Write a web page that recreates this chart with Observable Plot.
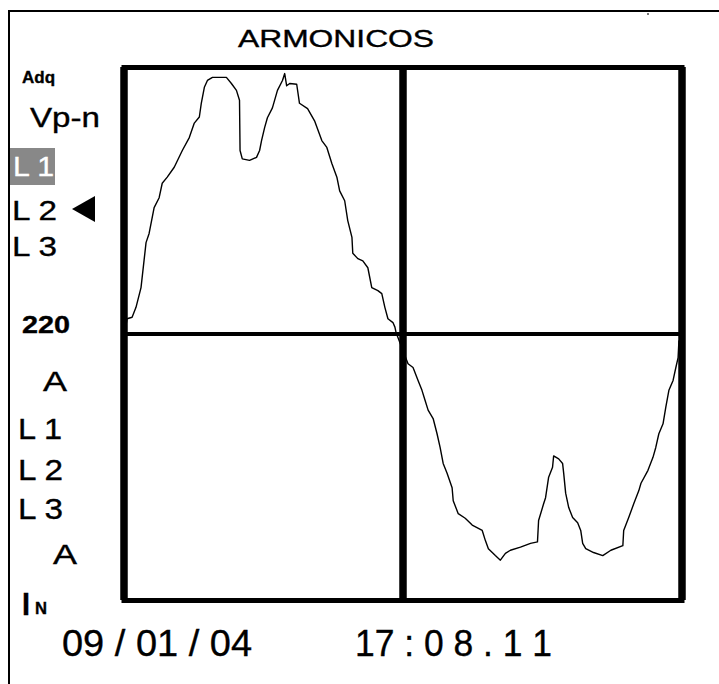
<!DOCTYPE html>
<html><head><meta charset="utf-8">
<script src="https://cdn.jsdelivr.net/npm/d3@7"></script>
<script src="https://cdn.jsdelivr.net/npm/@observablehq/plot@0.6"></script>
<style>
body{margin:0;background:#fff;}
#wrap{position:relative;width:719px;height:684px;overflow:hidden;font-family:"Liberation Sans",Arial,sans-serif;color:#000;background:#fff;}
#wrap svg{position:absolute;left:0;top:0;}
.lbl{position:absolute;white-space:pre;line-height:1;transform-origin:0 0;-webkit-text-stroke:0.35px currentColor;}
#outer{position:absolute;left:8px;top:10px;right:0;bottom:0;border-top:2px solid #000;border-left:2px solid #000;}
</style></head><body><div id="wrap"></div>
<script>
// waveform samples: time (ms) and value
const timeMs = [0.06,0.11,0.29,0.43,0.61,0.72,0.79,0.90,1.08,1.26,
1.37,1.55,1.80,2.09,2.34,2.52,2.70,2.77,2.88,2.99,
3.17,3.67,3.85,4.03,4.14,4.16,4.24,4.50,4.75,4.86,
4.93,5.04,5.14,5.32,5.50,5.68,5.76,5.83,5.94,6.19,
6.29,6.58,6.83,7.09,7.27,7.45,7.63,7.73,7.91,8.02,
8.17,8.20,8.38,8.56,8.74,8.88,9.10,9.24,9.35,9.46,
9.64,9.71,9.75,
10.18,10.36,10.54,10.68,10.79,10.90,11.08,11.22,11.33,11.44,
11.58,11.76,11.80,11.98,12.23,12.48,12.84,12.95,13.06,13.31,
13.49,13.67,13.85,14.21,14.57,14.82,14.86,15.04,15.11,15.22,
15.36,15.40,15.58,15.72,15.76,15.83,15.94,16.08,16.26,16.37,
16.44,16.55,16.83,17.16,17.45,17.88,17.91,18.09,18.27,18.45,
18.53,18.78,18.96,19.06,19.17,19.32,19.42,19.53,19.68,19.78,
19.86,19.89];
const values = [9,20,22,35,61,97,120,132,166,179,
198,206,219,241,258,277,285,303,324,333,
337,337,329,320,307,241,230,228,232,241,
254,271,284,297,320,333,342,326,329,328,
303,296,280,254,245,224,206,188,175,149,
127,106,99,96,87,61,57,53,35,20,
15,9,2,
-39,-44,-61,-74,-87,-100,-111,-131,-149,-170,
-183,-202,-219,-236,-242,-251,-258,-271,-282,-291,
-297,-288,-284,-280,-275,-273,-245,-223,-215,-188,
-175,-160,-164,-170,-183,-209,-228,-241,-248,-258,
-275,-282,-287,-291,-284,-278,-258,-241,-223,-206,
-196,-179,-162,-149,-131,-118,-96,-74,-61,-44,
-31,-9];
const xDomain = [0, 20];
const yDomain = [-350, 350];
const gridTimes = [0, 10, 20];
const gridValues = [0];

const title = "ARMONICOS";
const modeLabel = "Adq";
const voltLabel = "Vp-n";
const phaseLabels = ["L 1", "L 2", "L 3"];
const scaleLabel = "220";
const ampLabel = "A";
const neutral = ["I", "N"];
const dateLabel = "09 / 01 / 04";
const timeLabel = "17 : 0 8 . 1 1";

const data = timeMs.map((t, i) => ({t, v: values[i]}));

const chart = Plot.plot({
  width: 719, height: 684,
  marginLeft: 123.5, marginRight: 37.5, marginTop: 67, marginBottom: 84,
  style: {background: "transparent"},
  x: {domain: xDomain, axis: null},
  y: {domain: yDomain, axis: null},
  marks: [
    Plot.line(data, {x: "t", y: "v", stroke: "#000", strokeWidth: 1.4}),
    Plot.frame({stroke: "#000", strokeWidth: 5}),
    Plot.ruleY(gridValues, {stroke: "#000", strokeWidth: 4}),
    Plot.ruleX(gridTimes, {stroke: "#000", strokeWidth: 7.5})
  ]
});

const wrap = document.getElementById("wrap");
wrap.appendChild(chart);
const outer = document.createElement("div");
outer.id = "outer";
wrap.appendChild(outer);
const dot = document.createElement("div");
dot.style.cssText = "position:absolute;left:647px;top:13px;width:2px;height:2px;background:#777;";
wrap.appendChild(dot);

function label(text, x, baseline, fs, width, opts = {}) {
  const s = document.createElement("span");
  s.className = "lbl";
  s.textContent = text;
  s.style.fontSize = fs + "px";
  s.style.fontWeight = opts.bold ? "bold" : "normal";
  if (opts.color) s.style.color = opts.color;
  s.style.left = x + "px";
  s.style.top = (baseline - 0.8465 * fs) + "px";
  wrap.appendChild(s);
  const w = s.getBoundingClientRect().width;
  s.style.transform = `scaleX(${width / w})`;
  return s;
}

// highlighted L1 box
const box = document.createElement("div");
box.style.cssText = "position:absolute;left:10px;top:148px;width:45px;height:37px;background:#888;";
wrap.appendChild(box);

// selection triangle
const tri = document.createElement("div");
tri.style.cssText = "position:absolute;left:72px;top:196px;width:0;height:0;border-top:13.5px solid transparent;border-bottom:13.5px solid transparent;border-right:23px solid #000;";
wrap.appendChild(tri);

label(title, 238, 47, 23, 196);
label(modeLabel, 22, 83, 17, 33, {bold: true});
label(voltLabel, 30, 128, 27, 70);
label(phaseLabels[0], 13, 177, 28, 41, {color: "#fff"});
label(phaseLabels[1], 12, 221, 28, 45);
label(phaseLabels[2], 12, 257, 28, 45);
label(scaleLabel, 22, 333, 24, 48, {bold: true});
label(ampLabel, 43, 392, 27, 24);
label(phaseLabels[0], 18, 440, 29, 44);
label(phaseLabels[1], 18, 481, 29, 45);
label(phaseLabels[2], 18, 520, 29, 45);
label(ampLabel, 53, 565, 27, 24);
label(neutral[0], 22, 615, 31, 8, {bold: true});
label(neutral[1], 35, 615, 16, 12, {bold: true});
label(dateLabel, 62, 656, 36, 190);
label(timeLabel, 355, 656, 36, 197);
</script></body></html>
